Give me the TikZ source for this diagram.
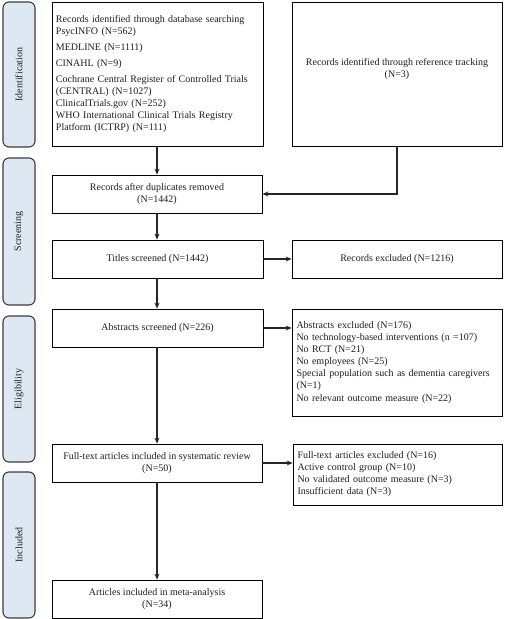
\documentclass[tikz,border=0pt]{standalone}
\usepackage{fontspec}
\setmainfont{Liberation Serif}
\usetikzlibrary{arrows.meta,calc}
\definecolor{phasefill}{RGB}{221,232,243}
\definecolor{phaseline}{RGB}{60,60,60}
\definecolor{inktext}{RGB}{30,30,30}
\tikzset{
  box/.style={draw=black, line width=0.8pt, inner sep=4pt, text=inktext,
    font=\fontsize{10}{12}\selectfont, align=center},
  lbox/.style={box, align=left},
  phase/.style={draw=phaseline, fill=phasefill, line width=1.1pt, rounded corners=6pt,
    minimum width=32pt, text=inktext, font=\fontsize{10}{12}\selectfont},
  phasetext/.style={rotate=90, text=inktext, font=\fontsize{10}{12}\selectfont},
  flow/.style={line width=1.3pt, draw=black!85, -{Stealth[length=6pt,width=5pt]}},
}
\begin{document}
\begin{tikzpicture}[x=1pt,y=-1pt]
\useasboundingbox (0,0) rectangle (505,619);
% phase labels
\node[phase, minimum height=145pt] (pid) at (19,74.5) {};
\node[phasetext] (tid) at (pid.center) {Identification};
\node[phase, minimum height=147pt] (psc) at (19,231.5) {};
\node[phasetext] (tsc) at (psc.center) {Screening};
\node[phase, minimum height=146pt] (pel) at (19,389) {};
\node[phasetext] (tel) at (pel.center) {Eligibility};
\node[phase, minimum height=146pt] (pin) at (19,545) {};
\node[phasetext] (tin) at (pin.center) {Included};

% boxes
\node[lbox, minimum width=211pt, minimum height=144pt, text width=203pt] (db) at (157.5,74) {%
Records identified through database searching\\
PsycINFO (N=562)\\[4pt]
MEDLINE (N=1111)\\[4pt]
CINAHL (N=9)\\[4pt]
Cochrane Central Register of Controlled Trials\\
(CENTRAL) (N=1027)\\
ClinicalTrials.gov (N=252)\\
WHO International Clinical Trials Registry\\
Platform (ICTRP) (N=111)};
\node[box, minimum width=210pt, minimum height=144pt] (ref) at (397,74) {Records identified through reference tracking\\(N=3)\\[0pt]};
\node[box, minimum width=210pt, minimum height=38pt] (dup) at (157,194) {Records after duplicates removed\\(N=1442)};
\node[box, minimum width=211pt, minimum height=38pt] (tit) at (157.5,259) {Titles screened (N=1442)};
\node[box, minimum width=210pt, minimum height=38pt] (rex) at (397,259) {Records excluded (N=1216)};
\node[box, minimum width=211pt, minimum height=38pt] (abs) at (157.5,328) {Abstracts screened (N=226)};
\node[lbox, minimum width=210pt, minimum height=107pt, text width=201pt] (aex) at (397,362.5) {%
Abstracts excluded (N=176)\\
No technology-based interventions (n =107)\\
No RCT (N=21)\\
No employees (N=25)\\
Special population such as dementia caregivers\\
(N=1)\\[1pt]
No relevant outcome measure (N=22)};
\node[box, minimum width=210pt, minimum height=38pt] (ft) at (157,463) {Full-text articles included in systematic review\\(N=50)};
\node[lbox, minimum width=209pt, minimum height=61pt, text width=200pt] (fex) at (397.5,474.5) {%
Full-text articles excluded (N=16)\\
Active control group (N=10)\\
No validated outcome measure (N=3)\\
Insufficient data (N=3)};
\node[box, minimum width=210pt, minimum height=38pt] (meta) at (157,599) {Articles included in meta-analysis\\(N=34)};

% connectors
\draw[flow] (db.south -| dup.north) -- (dup.north);
\draw[flow] (ref.south) |- (dup.east);
\draw[flow] (dup.south) -- (dup.south |- tit.north);
\draw[flow] (tit.east) -- (rex.west);
\draw[flow] (tit.south -| dup.south) -- (dup.south |- abs.north);
\draw[flow] (abs.east) -- (abs.east -| aex.west);
\draw[flow] (abs.south -| dup.south) -- (ft.north);
\draw[flow] (ft.east) -- (ft.east -| fex.west);
\draw[flow] (ft.south) -- (meta.north);
\end{tikzpicture}
\end{document}
